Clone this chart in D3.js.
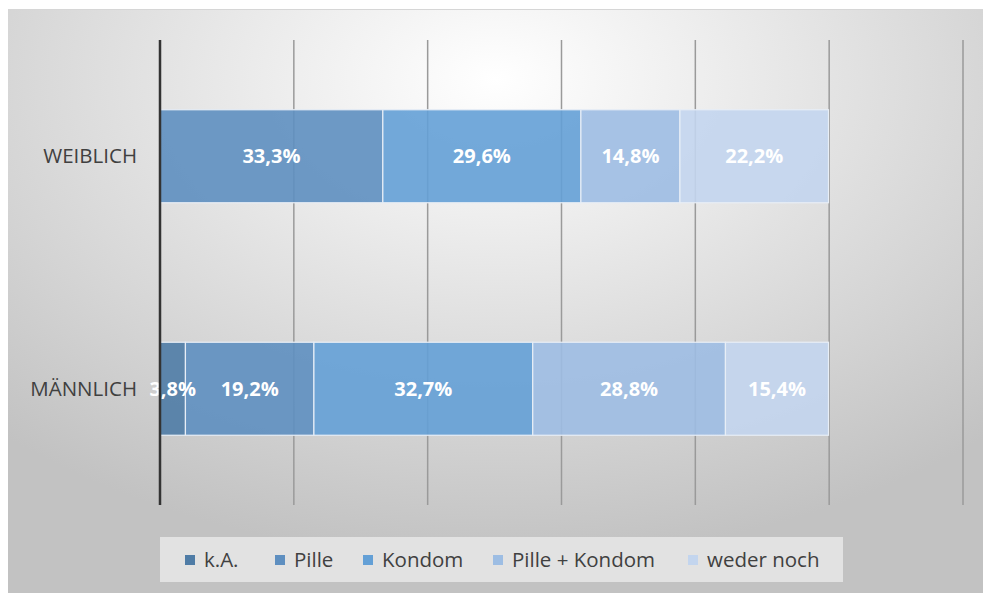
<!DOCTYPE html>
<html><head><meta charset="utf-8">
<script src="https://cdn.jsdelivr.net/npm/d3@7"></script>
<style>html,body{margin:0;padding:0;background:#fff;}svg{display:block;font-family:"Open Sans",sans-serif;}</style>
</head><body>
<script>
const categories = ["WEIBLICH", "MÄNNLICH"];
const seriesNames = ["k.A.", "Pille", "Kondom", "Pille + Kondom", "weder noch"];
const weiblich = [0, 33.3, 29.6, 14.8, 22.2];
const maennlich = [3.8, 19.2, 32.7, 28.8, 15.4];
const xTicks = [0, 20, 40, 60, 80, 100, 120];
const colors = ["#4f7ca6", "#5e8fc0", "#64a0d6", "#9dbde3", "#c3d5ee"];

const W = 983, H = 593;
const svg = d3.select("body").append("svg").attr("width", W).attr("height", H);
const defs = svg.append("defs");
const g = defs.append("radialGradient").attr("id","bg").attr("cx","50%").attr("cy","12%").attr("r","75%")
  .attr("fx","50%").attr("fy","12%").attr("gradientTransform","translate(0.5,0.12) scale(1,1.1) translate(-0.5,-0.12)");
g.append("stop").attr("offset","0%").attr("stop-color","#ffffff");
g.append("stop").attr("offset","35%").attr("stop-color","#eaeaea");
g.append("stop").attr("offset","100%").attr("stop-color","#c2c2c2");

svg.append("rect").attr("x",8).attr("y",9).attr("width",W-8).attr("height",H-9).attr("fill","url(#bg)");
svg.append("line").attr("x1",8).attr("x2",W).attr("y1",9.5).attr("y2",9.5).attr("stroke","#d6d6d6").attr("stroke-width",1);

const x = d3.scaleLinear().domain([0,120]).range([160,963]);
const y = d3.scaleBand().domain(categories).range([40,505]).paddingInner(0.6).paddingOuter(0.3);

// gridlines
svg.append("g").selectAll("line").data(xTicks.slice(1)).join("line")
  .attr("x1",d=>x(d)).attr("x2",d=>x(d)).attr("y1",40).attr("y2",505)
  .attr("stroke","#9a9a9a").attr("stroke-width",1.5);

const data = [weiblich, maennlich];
const rows = categories.map((c,i)=>{
  let acc=0;
  return data[i].map((v,j)=>{const s={cat:c,idx:j,x0:acc,x1:acc+v,v}; acc+=v; return s;});
});

const bars = svg.append("g");
rows.forEach(r=>{
  bars.selectAll(null).data(r.filter(d=>d.v>0)).join("rect")
    .attr("x",d=>x(d.x0)).attr("width",d=>x(d.x1)-x(d.x0))
    .attr("y",d=>y(d.cat)).attr("height",y.bandwidth())
    .attr("fill",d=>colors[d.idx]).attr("fill-opacity",0.9)
    .attr("stroke","#e8eef6").attr("stroke-width",1.2);
});

const fmt = v => v.toFixed(1).replace(".",",")+"%";
rows.forEach(r=>{
  bars.selectAll(null).data(r.filter(d=>d.v>0)).join("text")
    .attr("x",d=>(x(d.x0)+x(d.x1))/2).attr("y",d=>y(d.cat)+y.bandwidth()/2)
    .attr("dy","0.35em").attr("text-anchor","middle")
    .attr("fill","#fff").attr("font-weight","bold").attr("font-size",20)
    .text(d=>fmt(d.v));
});

// vertical axis
svg.append("line").attr("x1",x(0)).attr("x2",x(0)).attr("y1",40).attr("y2",505)
  .attr("stroke","#333").attr("stroke-width",2.5);

// category labels
svg.append("g").selectAll("text").data(categories).join("text")
  .attr("x",137).attr("y",d=>y(d)+y.bandwidth()/2).attr("dy","0.35em")
  .attr("text-anchor","end").attr("fill","#404040").attr("font-size",20.5).text(d=>d);

// legend
svg.append("rect").attr("x",160).attr("y",537).attr("width",683).attr("height",45).attr("fill","#e2e2e2");
const legX = [185, 275, 363, 493, 688];
const leg = svg.append("g").selectAll("g").data(seriesNames).join("g")
  .attr("transform",(d,i)=>`translate(${legX[i]},560)`);
leg.append("rect").attr("x",0).attr("y",-5).attr("width",10).attr("height",10).attr("fill",(d,i)=>colors[i]);
leg.append("text").attr("x",19).attr("dy","0.35em").attr("font-size",20.5).attr("fill","#404040").text(d=>d);
</script>
</body></html>
